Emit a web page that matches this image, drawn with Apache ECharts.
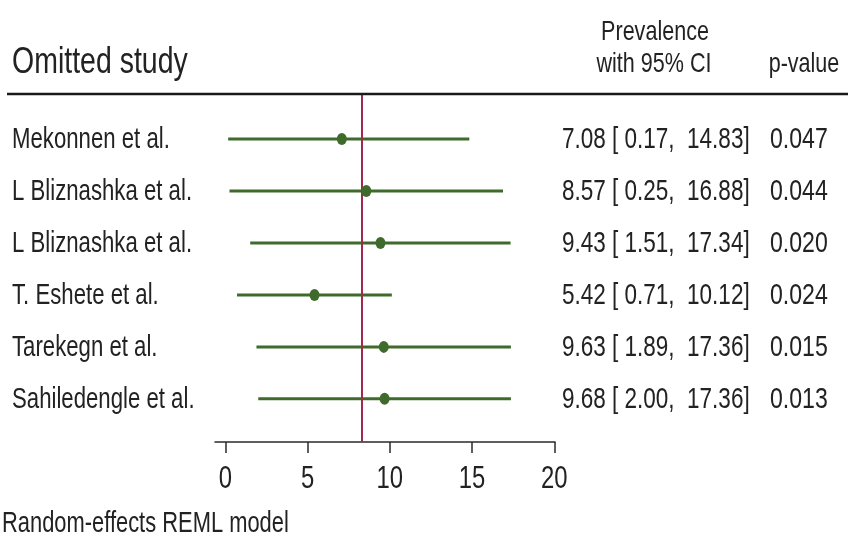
<!DOCTYPE html>
<html>
<head>
<meta charset="utf-8">
<script src="https://cdn.jsdelivr.net/npm/echarts@6/dist/echarts.min.js"></script>
<style>
html,body{margin:0;padding:0;background:#fff;}
#c{width:854px;height:542px;}
</style>
</head>
<body>
<div id="c"></div>
<script>
const studies = ['Mekonnen et al.', 'L Bliznashka et al.', 'L Bliznashka et al.', 'T. Eshete et al.', 'Tarekegn et al.', 'Sahiledengle et al.'];
const estimates = [7.08, 8.57, 9.43, 5.42, 9.63, 9.68];
const ciLow = [0.17, 0.25, 1.51, 0.71, 1.89, 2.00];
const ciHigh = [14.83, 16.88, 17.34, 10.12, 17.36, 17.36];
const pValues = ['0.047', '0.044', '0.020', '0.024', '0.015', '0.013'];
const overall = 8.31;
const xTicks = [0, 5, 10, 15, 20];

const FONT = "'Liberation Sans', Arial, sans-serif";
const TXT = '#222222';
const GREEN = '#3e6b2c';
const RED = '#a1294f';

const rows = studies.map((s, i) => i + 1);
const ciData = studies.map((s, i) => [ciLow[i], ciHigh[i], rows[i], i]);
const ptData = studies.map((s, i) => [estimates[i], rows[i]]);
const tickData = xTicks.map(v => [v]);

function fmt(v) { return v.toFixed(2); }
function pad(str, w) { while (str.length < w) str = ' ' + str; return str; }
function txt(x, y, text, size, align, sx) {
  return { type: 'text', x: x, y: y, scaleX: sx || 0.77, originX: 0, originY: 0,
    style: { text: text, x: 0, y: 0, fontFamily: FONT, fontSize: size, fill: TXT, align: align || 'left', verticalAlign: 'middle' } };
}

const chart = echarts.init(document.getElementById('c'));
chart.setOption({
  animation: false,
  backgroundColor: '#ffffff',
  grid: { left: 215, right: 299, top: 94, bottom: 100, containLabel: false },
  xAxis: {
    type: 'value',
    min: -0.63,
    max: 20.04,
    splitLine: { show: false },
    axisLine: { show: true, lineStyle: { color: '#2a2a2a', width: 1.5 } },
    axisTick: { show: true, length: 11, customValues: xTicks, lineStyle: { color: '#2a2a2a', width: 1.5 } },
    axisLabel: { show: false }
  },
  yAxis: {
    type: 'value',
    inverse: true,
    min: 0.135,
    max: 6.83,
    splitLine: { show: false },
    axisLine: { show: false },
    axisTick: { show: false },
    axisLabel: { show: false }
  },
  series: [
    {
      type: 'custom',
      data: ciData,
      encode: { x: [0, 1], y: 2 },
      renderItem: function (params, api) {
        const lo = api.value(0), hi = api.value(1), r = api.value(2), i = api.value(3);
        const p1 = api.coord([lo, r]);
        const p2 = api.coord([hi, r]);
        return {
          type: 'group',
          children: [
            { type: 'line', shape: { x1: p1[0], y1: p1[1], x2: p2[0], y2: p2[1] },
              style: { stroke: GREEN, lineWidth: 3 } },
            txt(12, p1[1] + 1, studies[i], 29, 'left', 0.765),
            txt(562, p1[1] + 1, fmt(estimates[i]) + ' [' + pad(fmt(lo), 5) + ',  ' + fmt(hi) + ']', 30, 'left', 0.75),
            txt(770, p1[1] + 1, pValues[i], 30, 'left', 0.77)
          ]
        };
      },
      z: 3
    },
    {
      type: 'custom',
      data: tickData,
      encode: { x: 0 },
      renderItem: function (params, api) {
        const v = api.value(0);
        const p = api.coord([v, 6.83]);
        return txt(p[0], p[1] + 37, String(v), 31, 'center', 0.77);
      },
      z: 3
    },
    {
      type: 'scatter',
      data: ptData,
      symbol: 'circle',
      symbolSize: [10, 12],
      itemStyle: { color: GREEN, opacity: 1 },
      z: 5,
      markLine: {
        silent: true,
        symbol: 'none',
        label: { show: false },
        lineStyle: { color: RED, width: 2, type: 'solid' },
        data: [{ xAxis: overall }]
      }
    }
  ],
  graphic: [
    { type: 'line', shape: { x1: 7, y1: 94, x2: 848, y2: 94 }, style: { stroke: '#1a1a1a', lineWidth: 2.5 }, z: 10 },
    txt(12, 63, 'Omitted study', 37, 'left', 0.77),
    txt(655, 32, 'Prevalence', 28, 'center', 0.77),
    txt(654, 64, 'with 95% CI', 28, 'center', 0.77),
    txt(804, 64, 'p-value', 28, 'center', 0.77),
    txt(2, 524, 'Random-effects REML model', 29, 'left', 0.755)
  ]
});
</script>
</body>
</html>
